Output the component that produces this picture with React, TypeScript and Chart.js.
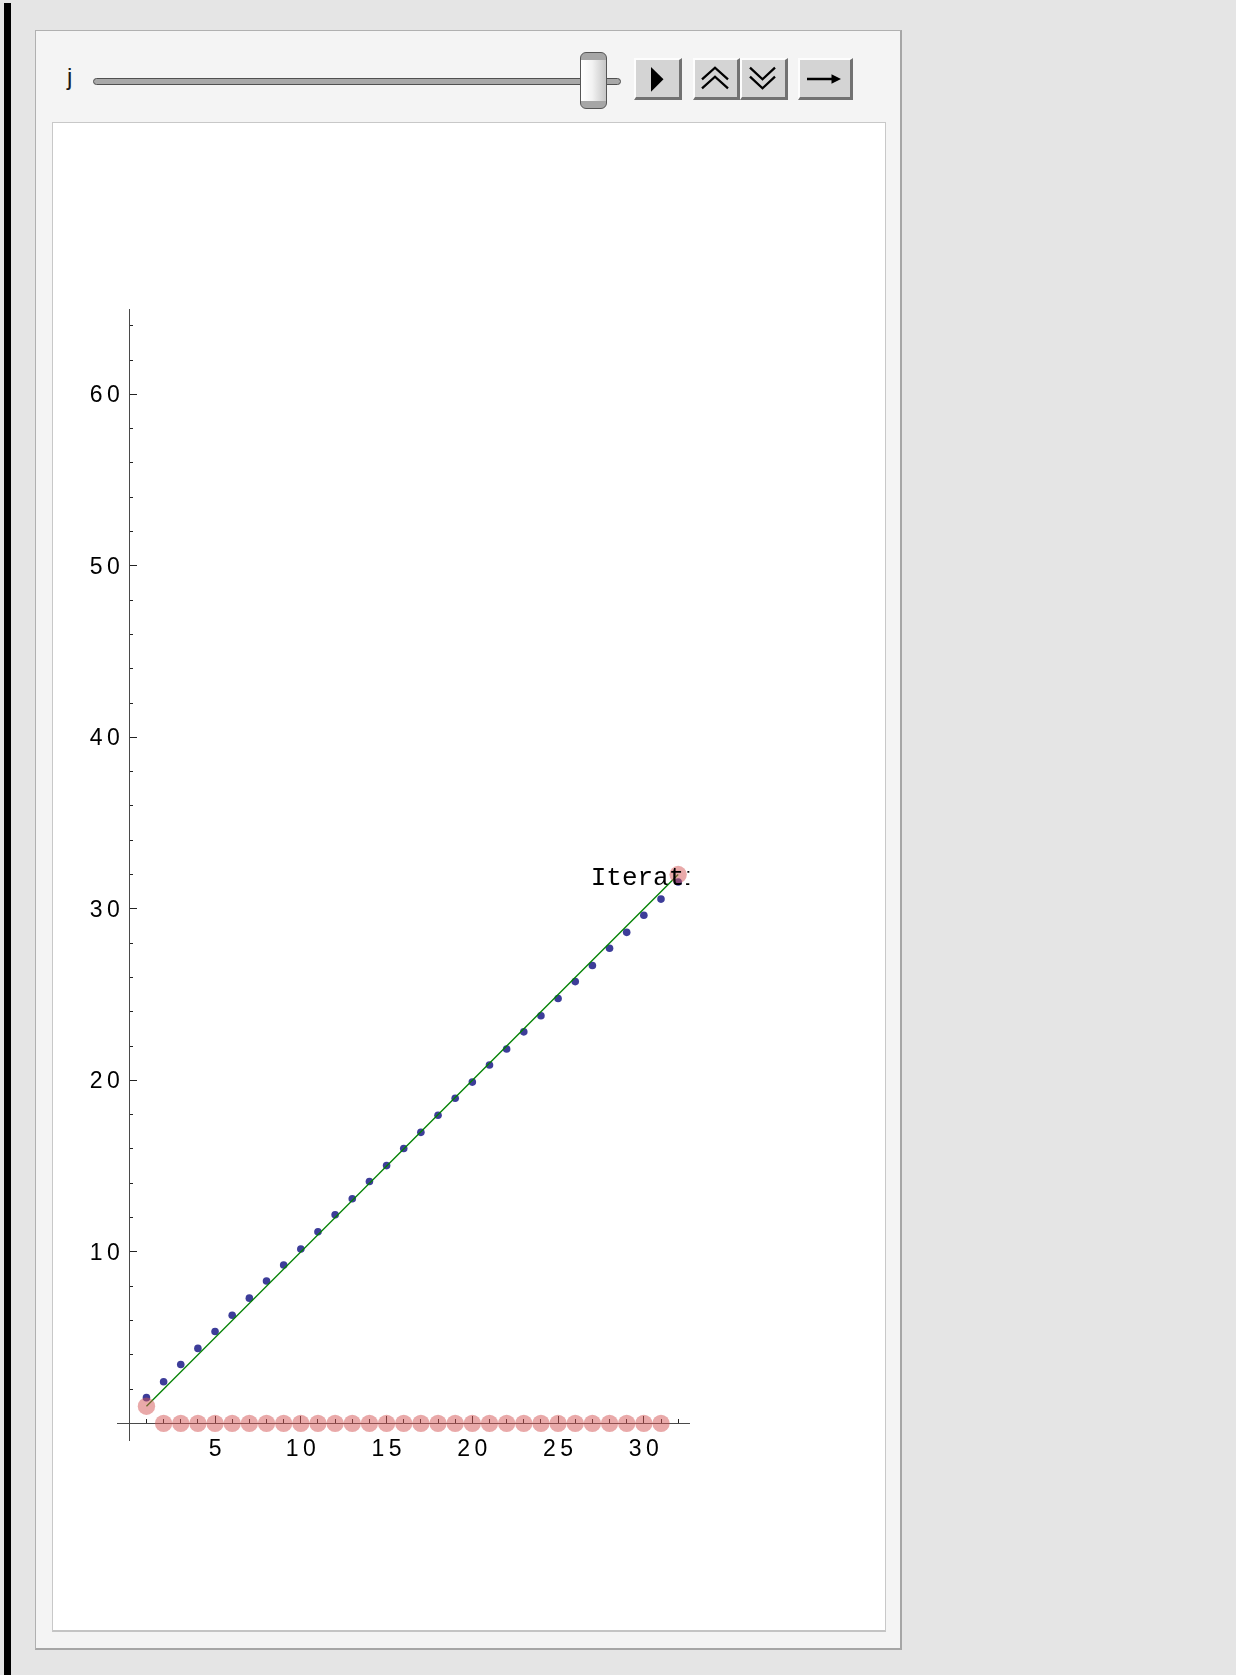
import React, { useEffect, useRef } from "react";
import { Chart, registerables } from "chart.js";

Chart.register(...registerables);

// ---- data ----
const iterations = [
  1, 2, 3, 4, 5, 6, 7, 8, 9, 10, 11, 12, 13, 14, 15, 16,
  17, 18, 19, 20, 21, 22, 23, 24, 25, 26, 27, 28, 29, 30, 31, 32,
];
const estimates = [
  1.5, 2.43, 3.43, 4.37, 5.36, 6.3, 7.3, 8.3, 9.23, 10.17, 11.17, 12.16, 13.1, 14.1, 15.03, 16.03,
  16.97, 17.97, 18.96, 19.9, 20.9, 21.83, 22.83, 23.77, 24.77, 25.76, 26.7, 27.7, 28.63, 29.63, 30.57, 31.57,
];
const markerValues = [
  1, 0, 0, 0, 0, 0, 0, 0, 0, 0, 0, 0, 0, 0, 0, 0,
  0, 0, 0, 0, 0, 0, 0, 0, 0, 0, 0, 0, 0, 0, 0, 32,
];
const lineX = [1, 32];
const lineY = [1, 32];

const xRange = [-0.7, 32.65];
const yRange = [-0.97, 64.96];
const xMajorStep = 5;
const xMinorStep = 1;
const yMajorStep = 10;
const yMinorStep = 2;

const labelText = "Iteration 32";
const labelPos = [26.9, 31.8];

// ---- styles ----
const AXIS = "#4a4a4a";
const TICK = "#222222";
const SPACING = 4.5;
const tickFont = { family: '"Liberation Sans", Arial, sans-serif', size: 23 };
const tickFontCss = '23px "Liberation Sans", Arial, sans-serif';

const formatTick = (v: any) => (Number(v) === 0 ? "" : String(v));

const tickSpacingPlugin = {
  id: "tickSpacing",
  beforeDraw(chart: any) {
    chart.ctx.letterSpacing = SPACING + "px";
  },
};

// y tick labels: taken from the y scale's own ticks, placed left of the y axis
const yLabelPlugin = {
  id: "yLabels",
  afterDraw(chart: any) {
    const { ctx, scales } = chart;
    const ys = scales.y;
    const x0 = scales.x.getPixelForValue(0);
    ctx.save();
    ctx.font = tickFontCss;
    ctx.fillStyle = "#000";
    ctx.textAlign = "left";
    ctx.textBaseline = "middle";
    for (const t of ys.ticks) {
      const label = formatTick(t.value);
      if (!label) continue;
      ctx.letterSpacing = "0px";
      const w0 = ctx.measureText(label).width;
      ctx.letterSpacing = SPACING + "px";
      ctx.fillText(label, x0 - 9.5 - w0 - SPACING * (label.length - 1), ys.getPixelForValue(t.value) + 1.5);
    }
    ctx.restore();
  },
};

const iterationLabelPlugin = {
  id: "iterationLabel",
  afterDatasetsDraw(chart: any) {
    const { ctx, chartArea, scales } = chart;
    ctx.save();
    ctx.beginPath();
    ctx.rect(chartArea.left, chartArea.top, chartArea.right - chartArea.left, chartArea.bottom - chartArea.top);
    ctx.clip();
    ctx.letterSpacing = "0px";
    ctx.font = '26px "Liberation Mono", "Courier New", monospace';
    ctx.fillStyle = "#000";
    ctx.textAlign = "left";
    ctx.textBaseline = "middle";
    ctx.fillText(labelText, scales.x.getPixelForValue(labelPos[0]), scales.y.getPixelForValue(labelPos[1]));
    ctx.restore();
  },
};

function ChartCanvas() {
  const ref = useRef<HTMLCanvasElement | null>(null);
  useEffect(() => {
    if (!ref.current) return;
    const chart = new Chart(ref.current, {
      type: "scatter",
      data: {
        datasets: [
          {
            label: "markers",
            data: iterations.map((x, i) => ({ x, y: markerValues[i] })),
            backgroundColor: "rgba(211,83,83,0.5)",
            borderWidth: 0,
            pointRadius: 8.7,
            pointHoverRadius: 8.7,
          },
          {
            label: "line",
            data: lineX.map((x, i) => ({ x, y: lineY[i] })),
            showLine: true,
            borderColor: "rgb(0,128,0)",
            borderWidth: 1.3,
            pointRadius: 0,
            pointHoverRadius: 0,
          },
          {
            label: "estimates",
            data: iterations.map((x, i) => ({ x, y: estimates[i] })),
            backgroundColor: "rgb(61,61,153)",
            borderWidth: 0,
            pointRadius: 3.8,
            pointHoverRadius: 3.8,
          },
        ],
      },
      options: {
        animation: false,
        responsive: false,
        devicePixelRatio: 1,
        events: [],
        layout: { padding: { left: 64.3, top: 186.3, right: 194.7, bottom: 190 } },
        plugins: { legend: { display: false }, tooltip: { enabled: false } },
        scales: {
          x: {
            type: "linear",
            position: { y: 0 } as any,
            min: xRange[0],
            max: xRange[1],
            border: { display: true, color: AXIS, width: 1 },
            grid: { drawOnChartArea: false, drawTicks: true, tickLength: -8, tickColor: TICK, tickWidth: 1 },
            ticks: {
              stepSize: xMajorStep,
              includeBounds: false,
              autoSkip: false,
              maxRotation: 0,
              padding: 20,
              labelOffset: SPACING / 2,
              color: "#000",
              font: tickFont,
              callback: formatTick,
            },
          },
          xMinor: {
            type: "linear",
            axis: "x",
            position: { y: 0 } as any,
            min: xRange[0],
            max: xRange[1],
            border: { display: false },
            grid: { drawOnChartArea: false, drawTicks: true, tickLength: -4, tickColor: TICK, tickWidth: 1 },
            ticks: { stepSize: xMinorStep, includeBounds: false, display: false, autoSkip: false },
          },
          y: {
            type: "linear",
            position: { x: 0 } as any,
            min: yRange[0],
            max: yRange[1],
            border: { display: true, color: AXIS, width: 1 },
            grid: { drawOnChartArea: false, drawTicks: true, tickLength: -8, tickColor: TICK, tickWidth: 1 },
            ticks: {
              stepSize: yMajorStep,
              includeBounds: false,
              autoSkip: false,
              display: false,
              callback: formatTick,
            },
          },
          yMinor: {
            type: "linear",
            axis: "y",
            position: { x: 0 } as any,
            min: yRange[0],
            max: yRange[1],
            border: { display: false },
            grid: { drawOnChartArea: false, drawTicks: true, tickLength: -4, tickColor: TICK, tickWidth: 1 },
            ticks: { stepSize: yMinorStep, includeBounds: false, display: false, autoSkip: false },
          },
        } as any,
      },
      plugins: [tickSpacingPlugin, yLabelPlugin, iterationLabelPlugin],
    } as any);
    return () => chart.destroy();
  }, []);
  return (
    <canvas
      ref={ref}
      width={831}
      height={1507}
      style={{ position: "absolute", left: 53, top: 123, width: 831, height: 1507 }}
    />
  );
}

const btnBase: React.CSSProperties = {
  position: "absolute",
  top: 58,
  height: 42,
  boxSizing: "border-box",
  background: "#d4d4d4",
  borderTop: "2px solid #fdfdfd",
  borderLeft: "2px solid #fdfdfd",
  borderRight: "3px solid #727272",
  borderBottom: "3px solid #727272",
};

function Button({ left, width, children }: { left: number; width: number; children: React.ReactNode }) {
  return (
    <div style={{ ...btnBase, left, width }}>
      <svg
        width={width}
        height={42}
        viewBox={`0 0 ${width} 42`}
        style={{ position: "absolute", left: -2, top: -2, overflow: "visible" }}
      >
        {children}
      </svg>
    </div>
  );
}

export default function App() {
  useEffect(() => {
    document.body.style.margin = "0";
  }, []);
  return (
    <div
      style={{
        position: "absolute",
        left: 0,
        top: 0,
        width: 1236,
        height: 1675,
        background: "#e5e5e5",
        overflow: "hidden",
      }}
    >
      <div style={{ position: "absolute", left: 4, top: 3, width: 7, height: 1672, background: "#000" }} />
      {/* panel */}
      <div
        style={{
          position: "absolute",
          left: 35,
          top: 30,
          width: 867,
          height: 1620,
          boxSizing: "border-box",
          background: "#f4f4f4",
          borderTop: "1px solid #b0b0b0",
          borderLeft: "1px solid #b0b0b0",
          borderRight: "2px solid #a6a6a6",
          borderBottom: "2px solid #a6a6a6",
        }}
      />
      {/* inner white area */}
      <div
        style={{
          position: "absolute",
          left: 52,
          top: 122,
          width: 834,
          height: 1510,
          boxSizing: "border-box",
          background: "#ffffff",
          borderTop: "1px solid #c8c8c8",
          borderLeft: "1px solid #c8c8c8",
          borderRight: "1px solid #c8c8c8",
          borderBottom: "2px solid #c4c4c4",
        }}
      />
      {/* slider label */}
      <div
        style={{
          position: "absolute",
          left: 67,
          top: 65,
          fontFamily: '"Liberation Sans", Arial, sans-serif',
          fontSize: 24,
          lineHeight: "24px",
          color: "#1a1a1a",
        }}
      >
        j
      </div>
      {/* slider track */}
      <div
        style={{
          position: "absolute",
          left: 93,
          top: 78,
          width: 528,
          height: 7,
          boxSizing: "border-box",
          background: "#a8a8a8",
          border: "1px solid #505050",
          borderRadius: 4,
        }}
      />
      {/* slider thumb */}
      <div
        style={{
          position: "absolute",
          left: 580,
          top: 52,
          width: 27,
          height: 57,
          boxSizing: "border-box",
          border: "1px solid #555",
          borderRadius: 6,
          background:
            "linear-gradient(to bottom, #a6a6a6 0px, #a6a6a6 7px, rgba(0,0,0,0) 7px, rgba(0,0,0,0) 48px, #a6a6a6 48px), linear-gradient(to right, #ffffff, #f2f2f2 45%, #c6c6c6)",
        }}
      />
      {/* buttons */}
      <Button left={634} width={48}>
        <polygon points="17,9 29.5,21.2 17,33.7" fill="#000" />
      </Button>
      <Button left={693} width={47}>
        <polyline points="9,21.3 22,9.7 35,21.3" fill="none" stroke="#000" strokeWidth={2.3} />
        <polyline points="9,30.3 22,18.7 35,30.3" fill="none" stroke="#000" strokeWidth={2.3} />
      </Button>
      <Button left={740} width={48}>
        <polyline points="10,9.7 22.5,21.3 35,9.7" fill="none" stroke="#000" strokeWidth={2.3} />
        <polyline points="10,18.7 22.5,30.3 35,18.7" fill="none" stroke="#000" strokeWidth={2.3} />
      </Button>
      <Button left={798} width={55}>
        <line x1={9} y1={21} x2={35} y2={21} stroke="#000" strokeWidth={2.5} />
        <polygon points="33.5,16.3 43,21 33.5,25.7" fill="#000" />
      </Button>
      <ChartCanvas />
    </div>
  );
}
